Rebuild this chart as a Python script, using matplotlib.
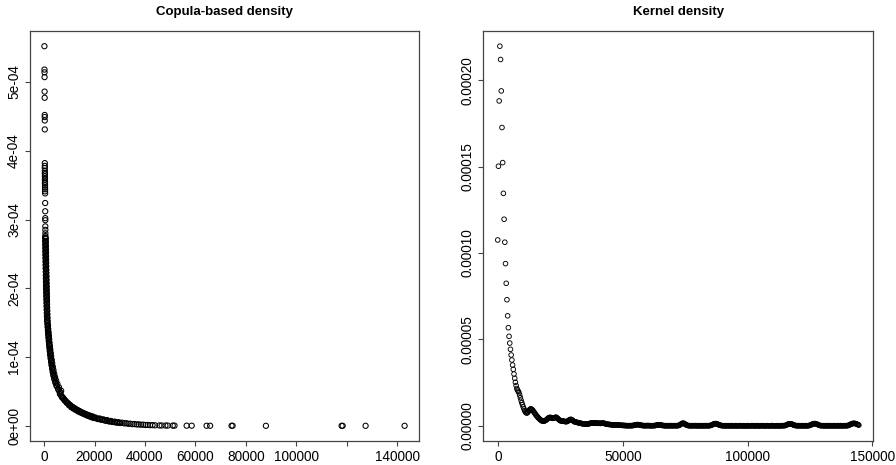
import numpy as np
import matplotlib
matplotlib.use("Agg")
import matplotlib.pyplot as plt

plt.rcParams['font.family'] = ['Liberation Sans', 'DejaVu Sans']

# copula-based density at the sample points (x, density in 1e-4)
cop_x = [
    150, 180, 200, 210, 230, 250, 270, 280, 290, 300,
    310, 330, 300, 340, 320, 360, 330, 370, 350, 390, 360, 400,
    380, 420, 400, 440, 450, 470, 480, 500, 510, 530, 540, 560,
    420, 700, 450, 720, 480, 740, 500, 760, 520, 790, 550, 810,
    570, 830, 600, 850, 620, 870, 650, 900, 680, 930, 710, 960,
    740, 990, 770, 1020, 800, 1050, 830, 1080, 860, 1110, 900, 1140,
    940, 1170, 980, 1200, 1020, 1240, 1060, 1280, 1100, 1320, 1150, 1360,
    1200, 1410,
    560, 600, 620, 640, 660, 680, 700, 730, 750, 780,
    810, 840, 870, 900, 930, 960, 990, 1020, 1060, 1090,
    1130, 1170, 1210, 1250, 1300,
    1330, 1560, 1430, 1670, 1540, 1800, 1660, 1930, 1760, 2050,
    1880, 2180, 2010, 2340, 2140, 2500, 2290, 2670, 2440, 2840,
    2610, 3050, 2790, 3250, 2980, 3480, 3200, 3740, 3440, 4030,
    3710, 4370, 4040, 4780, 4430, 5290, 4930, 5940, 5580, 6790,
    1450, 1530, 1620, 1720, 1830, 1950, 2080, 2210, 2350, 2500,
    2680, 2860, 3060, 3280, 3530, 3800, 4150, 4550, 5050, 5700,
    6100, 6500,
    6300, 6800, 7200, 7700, 8100, 8600, 9000, 9500, 9900, 10400,
    10800, 11300, 11700, 12200, 12600, 13100, 13500, 14000, 14400, 14900,
    15300, 15800, 16200, 16700, 17100, 17600, 18000, 18500, 18900, 19400,
    19800, 20500, 21200, 22000, 22700, 23500, 24200, 25000, 25700, 26500,
    27200, 28000, 28700, 29500, 30200, 31000, 31800, 32600, 33400, 34200,
    35000, 35800, 36700, 37500, 38400, 39300, 40200, 41100, 42000, 43000,
    44000,
    7000, 7500, 8000, 8500, 9000, 9500, 10000, 10500, 11000, 11500,
    12000, 12500, 13000, 13500, 14000, 14500, 15000, 15500, 16000, 16500,
    17000, 17500, 18000, 18500, 19000, 19500, 20000, 21000, 22000, 23000,
    24000, 25000, 26000, 27000, 28000, 29000, 30000,
    45700, 46600, 48100, 49000, 51000, 51700, 56500, 58500, 64400, 65800,
    74300, 74700, 87900, 117900, 118300, 127400, 142850,
]
cop_y = [
    5.52, 5.18, 5.14, 5.07, 4.86, 4.77, 4.52, 4.49, 4.44, 4.31,
    3.82, 3.78, 3.75, 3.71, 3.68, 3.66, 3.63, 3.60, 3.58, 3.55, 3.53, 3.50,
    3.47, 3.44, 3.41, 3.38, 3.24, 3.12, 3.02, 2.99, 2.90, 2.85, 2.80, 2.76,
    2.74, 2.72, 2.69, 2.67, 2.64, 2.62, 2.59, 2.57, 2.54, 2.52, 2.49, 2.47,
    2.44, 2.42, 2.39, 2.37, 2.34, 2.32, 2.29, 2.27, 2.24, 2.22, 2.19, 2.17,
    2.14, 2.12, 2.09, 2.07, 2.04, 2.02, 1.99, 1.97, 1.94, 1.92, 1.89, 1.87,
    1.84, 1.82, 1.79, 1.77, 1.74, 1.72, 1.69, 1.67, 1.64, 1.62, 1.59, 1.57,
    1.54, 1.52,
    2.73, 2.68, 2.63, 2.58, 2.53, 2.48, 2.43, 2.38, 2.33, 2.28,
    2.23, 2.18, 2.13, 2.08, 2.03, 1.98, 1.93, 1.88, 1.83, 1.78,
    1.73, 1.68, 1.63, 1.58, 1.53,
    1.49, 1.46, 1.44, 1.41, 1.39, 1.36, 1.34, 1.31, 1.29, 1.26,
    1.24, 1.21, 1.19, 1.16, 1.14, 1.11, 1.09, 1.06, 1.04, 1.01,
    0.99, 0.96, 0.94, 0.91, 0.89, 0.86, 0.84, 0.81, 0.79, 0.76,
    0.74, 0.71, 0.69, 0.66, 0.64, 0.61, 0.59, 0.56, 0.54, 0.51,
    1.475, 1.425, 1.375, 1.325, 1.275, 1.225, 1.175, 1.125, 1.075, 1.025,
    0.975, 0.925, 0.875, 0.825, 0.775, 0.725, 0.675, 0.625, 0.575, 0.525,
    0.50, 0.485,
    0.462, 0.44, 0.41, 0.40, 0.37, 0.36, 0.335, 0.33, 0.30, 0.30,
    0.27, 0.275, 0.25, 0.255, 0.23, 0.235, 0.21, 0.218, 0.195, 0.20,
    0.18, 0.185, 0.165, 0.17, 0.15, 0.158, 0.138, 0.145, 0.125, 0.135,
    0.115, 0.12, 0.10, 0.108, 0.09, 0.095, 0.078, 0.084, 0.066, 0.072,
    0.057, 0.062, 0.05, 0.053, 0.043, 0.046, 0.036, 0.039, 0.030, 0.032,
    0.025, 0.027, 0.021, 0.022, 0.017, 0.018, 0.013, 0.014, 0.010, 0.011,
    0.008,
    0.43, 0.41, 0.385, 0.365, 0.345, 0.325, 0.31, 0.295, 0.28, 0.268,
    0.255, 0.243, 0.232, 0.222, 0.212, 0.202, 0.193, 0.184, 0.175, 0.167,
    0.159, 0.151, 0.143, 0.136, 0.129, 0.122, 0.116, 0.106, 0.097, 0.088,
    0.08, 0.072, 0.065, 0.059, 0.053, 0.048, 0.043,
    0.006, 0.006, 0.005, 0.005, 0.004, 0.004, 0.003, 0.003, 0.002, 0.002,
    0.002, 0.002, 0.001, 0.001, 0.001, 0.001, 0.001,
]

# kernel density on an even grid (density in 1e-5)
kde_from, kde_to = -207, 144608
kde_y = [
    10.76, 15.03, 18.81, 21.98, 21.21, 19.39, 17.27, 15.24, 13.46, 11.96, 10.63, 9.39, 8.25, 7.30, 6.37, 5.68, 5.18, 4.79, 4.43, 4.10,
    3.81, 3.52, 3.27, 3.00, 2.75, 2.52, 2.33, 2.16, 2.07, 2.00, 1.92, 1.78, 1.63, 1.48, 1.34, 1.22, 1.10, 0.99, 0.89, 0.81,
    0.76, 0.74, 0.76, 0.81, 0.87, 0.93, 0.97, 0.98, 0.96, 0.92, 0.87, 0.81, 0.75, 0.69, 0.63, 0.58, 0.53, 0.48, 0.44, 0.40,
    0.36, 0.33, 0.30, 0.28, 0.27, 0.27, 0.28, 0.30, 0.32, 0.35, 0.39, 0.43, 0.46, 0.48, 0.49, 0.48, 0.46, 0.44, 0.43, 0.44,
    0.46, 0.48, 0.50, 0.49, 0.46, 0.42, 0.38, 0.34, 0.31, 0.29, 0.28, 0.28, 0.27, 0.27, 0.26, 0.25, 0.24, 0.24, 0.25, 0.27,
    0.30, 0.33, 0.36, 0.37, 0.37, 0.35, 0.31, 0.28, 0.25, 0.23, 0.22, 0.21, 0.20, 0.19, 0.18, 0.17, 0.16, 0.15, 0.14, 0.13,
    0.12, 0.12, 0.11, 0.11, 0.10, 0.10, 0.10, 0.10, 0.11, 0.12, 0.13, 0.15, 0.16, 0.16, 0.16, 0.15, 0.15, 0.16, 0.17, 0.17,
    0.16, 0.15, 0.14, 0.15, 0.15, 0.14, 0.14, 0.15, 0.16, 0.16, 0.15, 0.14, 0.12, 0.11, 0.10, 0.09, 0.09, 0.08, 0.08, 0.07,
    0.07, 0.06, 0.06, 0.05, 0.05, 0.05, 0.05, 0.06, 0.06, 0.06, 0.05, 0.04, 0.04, 0.03, 0.03, 0.03, 0.03, 0.02, 0.02, 0.02,
    0.02, 0.01, 0.01, 0.01, 0.01, 0.01, 0.01, 0.01, 0.01, 0.01, 0.01, 0.02, 0.02, 0.03, 0.04, 0.05, 0.06, 0.07, 0.07, 0.07,
    0.06, 0.05, 0.04, 0.03, 0.02, 0.02, 0.01, 0.01, 0.01, 0.01, 0.01, 0.01, 0.02, 0.01, 0.01, 0.01, 0.01, 0.00, 0.01, 0.01,
    0.01, 0.01, 0.01, 0.02, 0.03, 0.04, 0.05, 0.06, 0.06, 0.06, 0.05, 0.04, 0.03, 0.02, 0.02, 0.01, 0.01, 0.01, 0.00, 0.01,
    0.01, 0.01, 0.00, 0.01, 0.01, 0.01, 0.01, 0.00, 0.01, 0.01, 0.01, 0.01, 0.00, 0.01, 0.01, 0.01, 0.02, 0.04, 0.06, 0.09,
    0.12, 0.14, 0.15, 0.15, 0.13, 0.10, 0.07, 0.05, 0.03, 0.02, 0.01, 0.01, 0.01, 0.00, 0.01, 0.01, 0.00, 0.01, 0.01, 0.01,
    0.01, 0.00, 0.01, 0.01, 0.00, 0.00, 0.01, 0.01, 0.01, 0.00, 0.00, 0.01, 0.01, 0.00, 0.01, 0.01, 0.01, 0.00, 0.01, 0.01,
    0.01, 0.02, 0.03, 0.05, 0.07, 0.09, 0.11, 0.12, 0.13, 0.13, 0.12, 0.10, 0.08, 0.06, 0.04, 0.03, 0.02, 0.01, 0.01, 0.01,
    0.00, 0.01, 0.01, 0.00, 0.00, 0.01, 0.01, 0.00, 0.00, 0.00, 0.01, 0.01, 0.01, 0.00, 0.00, 0.00, 0.01, 0.01, 0.00, 0.00,
    0.00, 0.00, 0.01, 0.01, 0.01, 0.00, 0.00, 0.00, 0.01, 0.00, 0.00, 0.00, 0.00, 0.01, 0.01, 0.00, 0.00, 0.00, 0.00, 0.01,
    0.01, 0.01, 0.00, 0.00, 0.00, 0.00, 0.01, 0.01, 0.00, 0.00, 0.00, 0.00, 0.00, 0.01, 0.01, 0.01, 0.00, 0.00, 0.00, 0.00,
    0.00, 0.01, 0.01, 0.00, 0.00, 0.00, 0.00, 0.01, 0.01, 0.01, 0.00, 0.00, 0.00, 0.00, 0.00, 0.01, 0.01, 0.00, 0.00, 0.00,
    0.00, 0.01, 0.01, 0.01, 0.01, 0.01, 0.01, 0.02, 0.04, 0.06, 0.08, 0.10, 0.11, 0.12, 0.12, 0.11, 0.10, 0.08, 0.06, 0.04,
    0.03, 0.02, 0.01, 0.01, 0.00, 0.01, 0.01, 0.01, 0.00, 0.00, 0.01, 0.01, 0.01, 0.00, 0.00, 0.01, 0.01, 0.00, 0.00, 0.01,
    0.01, 0.02, 0.03, 0.05, 0.07, 0.09, 0.11, 0.12, 0.13, 0.13, 0.12, 0.11, 0.09, 0.07, 0.05, 0.03, 0.02, 0.01, 0.01, 0.01,
    0.00, 0.01, 0.01, 0.00, 0.00, 0.01, 0.01, 0.01, 0.00, 0.00, 0.01, 0.01, 0.00, 0.00, 0.00, 0.01, 0.01, 0.01, 0.00, 0.00,
    0.01, 0.01, 0.00, 0.00, 0.01, 0.01, 0.01, 0.00, 0.00, 0.01, 0.01, 0.01, 0.00, 0.01, 0.01, 0.01, 0.02, 0.04, 0.06, 0.08,
    0.10, 0.12, 0.13, 0.14, 0.14, 0.14, 0.13, 0.12, 0.10, 0.08, 0.06, 0.04,
]

cop_xticks = [0, 20000, 40000, 60000, 80000, 100000, 120000, 140000]
cop_xlabels = ['0', '20000', '40000', '60000', '80000', '100000', '', '140000']
cop_yticks = [0, 1e-4, 2e-4, 3e-4, 4e-4, 5e-4]
cop_ylabels = ['0e+00', '1e-04', '2e-04', '3e-04', '4e-04', '5e-04']
kde_xticks = [0, 50000, 100000, 150000]
kde_xlabels = ['0', '50000', '100000', '150000']
kde_yticks = [0, 5e-5, 1e-4, 1.5e-4, 2e-4]
kde_ylabels = ['0.00000', '0.00005', '0.00010', '0.00015', '0.00020']


def r_range(v):
    # base R style: data range padded by 4% each side
    lo, hi = np.min(v), np.max(v)
    pad = 0.04 * (hi - lo)
    return lo - pad, hi + pad


def draw_panel(ax, x, y, title, xt, xl, yt, yl, size, lw):
    ax.scatter(x, y, s=size, facecolors='none', edgecolors='black', linewidths=lw)
    ax.set_xlim(r_range(x))
    ax.set_ylim(r_range(y))
    ax.set_xticks(xt)
    ax.set_xticklabels(xl)
    ax.set_yticks(yt)
    ax.set_yticklabels(yl, rotation=90, va='center')
    ax.tick_params(direction='out', length=3.4, width=0.8, color='#444444',
                   labelsize=9.8, pad=3)
    for sp in ax.spines.values():
        sp.set_color('#444444')
        sp.set_linewidth(0.9)
    ax.text(0.5, 1 + 19 / 410, title, transform=ax.transAxes, ha='center',
            va='center', fontsize=9.5, fontweight='bold')


fig = plt.figure(figsize=(8.96, 4.65), dpi=100)
ax1 = fig.add_axes([30 / 896, 24 / 465, 389 / 896, 410 / 465])
ax2 = fig.add_axes([483.3 / 896, 24 / 465, 390 / 896, 410 / 465])

cx = np.array(cop_x, dtype=float)
cy = np.array(cop_y) * 1e-4
draw_panel(ax1, cx, cy, 'Copula-based density',
           cop_xticks, cop_xlabels, cop_yticks, cop_ylabels, 14, 0.75)

ky = np.array(kde_y) * 1e-5
kx = np.linspace(kde_from, kde_to, len(ky))
draw_panel(ax2, kx, ky, 'Kernel density',
           kde_xticks, kde_xlabels, kde_yticks, kde_ylabels, 11, 0.65)

fig.savefig('out.png', dpi=100, facecolor='white')
